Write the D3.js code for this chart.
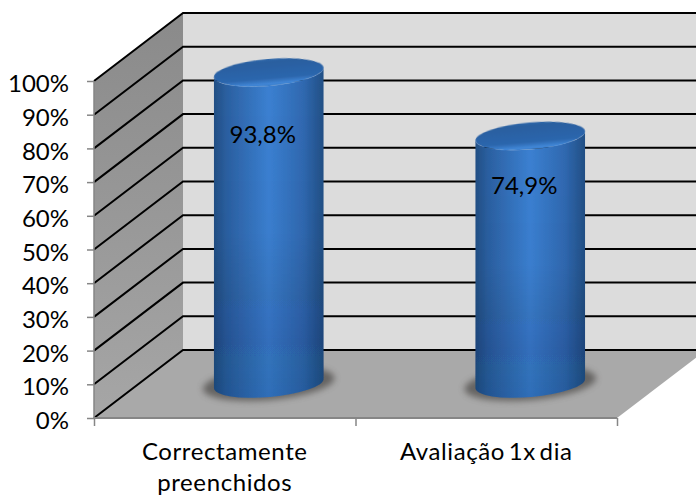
<!DOCTYPE html>
<html>
<head>
<meta charset="utf-8">
<script src="https://cdnjs.cloudflare.com/ajax/libs/d3/7.8.5/d3.min.js"></script>
<style>
  html, body { margin: 0; padding: 0; background: #fff; }
  svg { display: block; }
  text { font-family: Lato, "Open Sans", sans-serif; fill: #000; }
</style>
</head>
<body>
<div id="chart"></div>
<script>
var categories = [["Correctamente", "preenchidos"], ["Avaliação 1x dia"]];
var values = [93.8, 74.9];
var valueLabels = ["93,8%", "74,9%"];
var ticks = [0, 10, 20, 30, 40, 50, 60, 70, 80, 90, 100];

var width = 696, height = 497;
var depthX = 89, depthY = 68;   // how far the back wall sits from the front edge
var barW = 110, capRy = 13.5, tilt = -5;
var baseY = 383.5;              // where the cylinders stand on the floor

var svg = d3.select('#chart').append('svg').attr('width', width).attr('height', height);

var x = d3.scaleBand().domain(d3.range(categories.length)).range([94, 617]);
var y = d3.scaleLinear().domain([0, 100]).range([418, 81]);
// height of the cylinder tops
var yBar = d3.scaleLinear().domain([0, 100]).range([387.6, 51.6]);
// baseline of the label inside each cylinder
var yLabel = d3.scaleLinear().domain([0, 100]).range([396, 126]);

var defs = svg.append('defs');

function gradient(id, x2, y2, stops) {
  var g = defs.append('linearGradient').attr('id', id)
    .attr('x1', 0).attr('y1', 0).attr('x2', x2).attr('y2', y2);
  stops.forEach(function(s) {
    g.append('stop').attr('offset', s[0]).attr('stop-color', s[1]).attr('stop-opacity', s[2] === undefined ? 1 : s[2]);
  });
}
gradient('sideWall', 0, 1, [[0, '#8a8a8a'], [1, '#a6a6a6']]);
gradient('body', 1, 0, [[0, '#224f85'], [0.12, '#2b60a2'], [0.5, '#3b80d2'], [0.82, '#2f68b0'], [1, '#224f85']]);
gradient('bodyShade', 0, 1, [[0, '#000', 0], [0.5, '#000', 0.02], [1, '#0a2a55', 0.2]]);
gradient('cap', 0, 1, [[0, '#2f68aa'], [0.12, '#2a5f9f'], [0.72, '#2c66ad'], [0.92, '#4086d6'], [1, '#3a7cc8']]);

defs.append('filter').attr('id', 'blur5').attr('x', '-30%').attr('y', '-60%').attr('width', '160%').attr('height', '220%')
  .append('feGaussianBlur').attr('stdDeviation', 3.2);
defs.append('filter').attr('id', 'soft').attr('x', '-5%').attr('y', '-5%').attr('width', '110%').attr('height', '110%')
  .append('feGaussianBlur').attr('stdDeviation', 0.5);

var left = x.range()[0], right = x.range()[1];
var backLeft = left + depthX;

// back wall
svg.append('path').attr('fill', '#dcdcdc')
  .attr('d', d3.line()([[backLeft, y(0) - depthY], [backLeft, y(100) - depthY], [width, y(100) - depthY], [width, y(0) - depthY]]) + 'Z');
// side wall
svg.append('path').attr('fill', 'url(#sideWall)')
  .attr('d', d3.line()([[left, y(0)], [left, y(100)], [backLeft, y(100) - depthY], [backLeft, y(0) - depthY]]) + 'Z');
// floor
svg.append('path').attr('fill', '#a9a9a9')
  .attr('d', d3.line()([[left, y(0)], [backLeft, y(0) - depthY], [right + depthX, y(0) - depthY], [right, y(0)]]) + 'Z');

// gridlines, side wall then back wall
svg.append('g').selectAll('path').data(ticks).enter().append('path')
  .attr('fill', 'none').attr('stroke', '#000').attr('stroke-width', 2)
  .attr('d', function(t) {
    return d3.line()([[left, y(t)], [backLeft, y(t) - depthY], [width, y(t) - depthY]]);
  });

// axes
var axisColor = '#868686';
var leftAxis = d3.axisLeft(y).tickValues(ticks).tickSize(7).tickFormat(function(d) { return d + '%'; });
var gy = svg.append('g').attr('transform', 'translate(' + left + ',0)').call(leftAxis);
gy.selectAll('.domain').attr('stroke', axisColor).attr('stroke-width', 1.5).attr('d', 'M0,' + y(0) + 'V' + y(100));
gy.selectAll('.tick line').attr('stroke', axisColor).attr('stroke-width', 1.5);
gy.selectAll('.tick text').attr('x', -25).attr('y', 3).attr('font-size', 24).attr('text-anchor', 'end').attr('fill', '#000');

var bottomAxis = d3.axisBottom(d3.scaleLinear().domain([0, categories.length]).range([left, right]))
  .tickValues(d3.range(categories.length + 1)).tickSize(8).tickFormat('');
var gx = svg.append('g').attr('transform', 'translate(0,' + y(0) + ')').call(bottomAxis);
gx.selectAll('.domain').attr('stroke', axisColor).attr('stroke-width', 2).attr('d', 'M' + left + ',0H' + right);
gx.selectAll('.tick line').attr('stroke', axisColor).attr('stroke-width', 1.5);

// category labels
categories.forEach(function(lines, i) {
  var t = svg.append('text').attr('text-anchor', 'middle').attr('font-size', 24)
    .attr('letter-spacing', 0.6).attr('word-spacing', -3);
  lines.forEach(function(line, j) {
    t.append('tspan').attr('x', x(i) + x.bandwidth() / 2).attr('y', 460 + j * 31).text(line);
  });
});

// cylinders
function barCenter(i) { return x(i) + x.bandwidth() / 2 + depthX / 2 - 0.5; }

// points on the tilted ellipse at its left and right ends
function ends(cx, cy) {
  var rad = tilt * Math.PI / 180, rx = barW / 2;
  return [[cx - rx * Math.cos(rad), cy - rx * Math.sin(rad)], [cx + rx * Math.cos(rad), cy + rx * Math.sin(rad)]];
}

var bars = svg.append('g').selectAll('g').data(values).enter().append('g');

bars.append('ellipse').attr('class', 'shadow')
  .attr('cx', function(d, i) { return barCenter(i); })
  .attr('cy', baseY)
  .attr('rx', barW / 2 + 11).attr('ry', capRy + 3)
  .attr('transform', function(d, i) { return 'rotate(' + tilt + ' ' + barCenter(i) + ' ' + baseY + ')'; })
  .attr('fill', '#4a4644').attr('opacity', 0.7).attr('filter', 'url(#blur5)');

function bodyPath(d, i) {
  var cx = barCenter(i), top = ends(cx, yBar(d)), base = ends(cx, baseY);
  var rx = barW / 2;
  return 'M' + top[0] + 'L' + base[0]
    + 'A' + rx + ',' + capRy + ' ' + tilt + ' 0 0 ' + base[1]
    + 'L' + top[1]
    + 'A' + rx + ',' + capRy + ' ' + tilt + ' 0 1 ' + top[0] + 'Z';
}
bars.append('path').attr('d', bodyPath).attr('fill', 'url(#body)').attr('filter', 'url(#soft)');
bars.append('path').attr('d', bodyPath).attr('fill', 'url(#bodyShade)').attr('filter', 'url(#soft)');

bars.append('ellipse').attr('class', 'cap')
  .attr('cx', function(d, i) { return barCenter(i); })
  .attr('cy', function(d) { return yBar(d); })
  .attr('rx', barW / 2).attr('ry', capRy)
  .attr('transform', function(d, i) { return 'rotate(' + tilt + ' ' + barCenter(i) + ' ' + yBar(d) + ')'; })
  .attr('fill', 'url(#cap)').attr('filter', 'url(#soft)');

bars.append('text')
  .attr('x', function(d, i) { return barCenter(i) - 6; })
  .attr('y', function(d) { return yLabel(d); })
  .attr('text-anchor', 'middle').attr('font-size', 24)
  .text(function(d, i) { return valueLabels[i]; });
</script>
</body>
</html>
